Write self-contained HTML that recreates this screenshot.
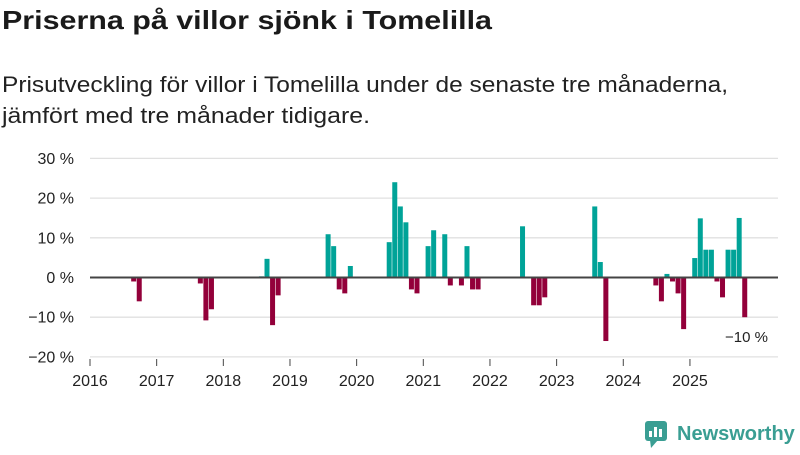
<!DOCTYPE html>
<html><head><meta charset="utf-8"><style>
body{margin:0;width:800px;height:450px;background:#fff;font-family:"Liberation Sans",sans-serif;color:#222;overflow:hidden}
svg text{font-family:"Liberation Sans",sans-serif}
</style></head><body>
<svg width="800" height="450">
<text x="2" y="29" font-size="26" font-weight="bold" fill="#1a1a1a" textLength="490" lengthAdjust="spacingAndGlyphs">Priserna på villor sjönk i Tomelilla</text>
<text x="2" y="92" font-size="22" fill="#222" textLength="726" lengthAdjust="spacingAndGlyphs">Prisutveckling för villor i Tomelilla under de senaste tre månaderna,</text>
<text x="2" y="123" font-size="22" fill="#222" textLength="368" lengthAdjust="spacingAndGlyphs">jämfört med tre månader tidigare.</text>
<g id="grid"></g><g id="bars"></g><g id="axes"></g>
<text x="768" y="342" font-size="15" text-anchor="end" fill="#222">−10 %</text>
<g>
<rect x="645" y="421" width="22" height="20" rx="3" fill="#3a9e93"/>
<polygon points="650,440 658,440 651,448" fill="#3a9e93"/>
<rect x="649" y="431" width="3" height="6" fill="#fff"/><rect x="654" y="427" width="3" height="10" fill="#fff"/><rect x="659" y="429" width="3" height="8" fill="#fff"/>
<text x="677" y="440" font-size="20" font-weight="bold" fill="#3a9e93">Newsworthy</text>
</g>
</svg>
<script>
const months=[7,8,19,20,21,30,31,32,33,42,43,44,45,46,53,54,55,56,57,58,60,61,63,64,66,67,68,69,77,79,80,81,90,91,92,101,102,103,104,105,106,108,109,110,111,112,113,114,115,116,117];
const values=[-1,-6,-1.5,-10.8,-8,0.3,4.7,-12,-4.5,10.9,7.9,-3,-4,2.9,8.9,24,17.9,13.9,-3,-4,7.9,11.9,10.9,-2,-2,7.9,-3,-3,12.9,-7,-7,-5,17.9,3.9,-16,-2,-6,0.9,-1,-4,-13,4.9,14.9,7,7,-1,-5,7,7,15,-10];
const yTicks=[30,20,10,0,-10,-20];
const yTickLabels=["30 %","20 %","10 %","0 %","−10 %","−20 %"];
const years=[2016,2017,2018,2019,2020,2021,2022,2023,2024,2025];
const NS="http://www.w3.org/2000/svg";
const X=m=>90+m*5.555;
const Y=v=>277.5-v*3.97;
function mk(tag,attrs,parent){const e=document.createElementNS(NS,tag);for(const k in attrs)e.setAttribute(k,attrs[k]);document.getElementById(parent).appendChild(e);return e;}
yTicks.forEach((t,i)=>{
  if(t!==0){const l=mk('line',{x1:90,x2:778,y1:Y(t),y2:Y(t),stroke:'#e0e0e0','stroke-width':1.3},'grid');
  
  }
  const tx=mk('text',{x:74,y:Y(t)+5.5,'font-size':16,'text-anchor':'end',fill:'#222'},'axes');
  tx.textContent=yTickLabels[i];
  
  
});
months.forEach((m,i)=>{
  const v=values[i];
  const r=mk('rect',{x:X(m)+2.3,width:5,y:v>=0?Y(v):Y(0),height:Math.max(0.6,Math.abs(Y(v)-Y(0))),fill:v>=0?'#00a398':'#93003a'},'bars');
  
  
});
const z=mk('line',{x1:90,x2:778,y1:Y(0),y2:Y(0),stroke:'#444','stroke-width':2},'axes');


years.forEach(y=>{
  const x=X((y-2016)*12);
  const t=mk('line',{x1:x,x2:x,y1:359,y2:366,stroke:'#444','stroke-width':1},'axes');
  
  
  const tx=mk('text',{x:x,y:386,'font-size':16,'text-anchor':'middle',fill:'#222'},'axes');
  tx.textContent=y;
  
  
});
</script>
</body></html>
